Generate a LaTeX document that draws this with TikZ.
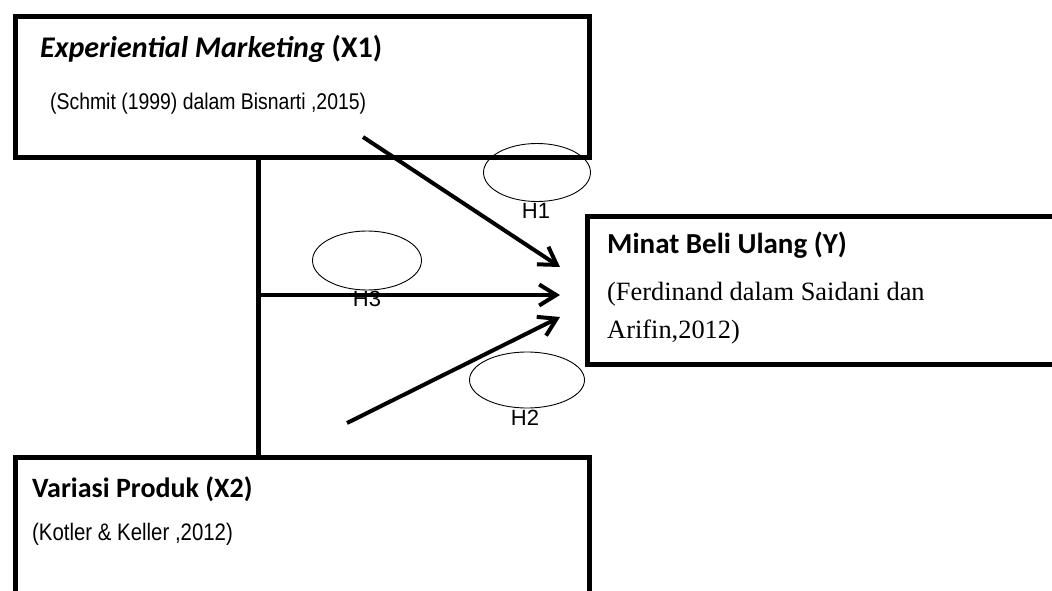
\documentclass[tikz,border=0pt]{standalone}
\usepackage{fontspec}
\setmainfont{Liberation Serif}
\newfontfamily\calfont{Carlito}
\newfontfamily\arialfont{Liberation Sans}
\usetikzlibrary{arrows.meta,shapes.geometric}

% sans citations are set slightly tall and narrow
\newcommand{\tallsans}[1]{\scalebox{1}[1.17]{#1}}

\tikzset{
  varbox/.style={draw, line width=5pt, rectangle, anchor=north west, inner sep=0pt},
  spine/.style={line width=5pt},
  hyparrow/.style={line width=4pt, -{Straight Barb[length=17pt, width=21pt]}},
  hypoval/.style={draw, ellipse, line width=0.9pt, inner sep=0pt},
  title/.style={anchor=base west, inner sep=0pt, font=\calfont\bfseries\fontsize{#1}{32}\selectfont},
  title/.default=29,
  citesans/.style={anchor=base west, inner sep=0pt, font=\arialfont\fontsize{#1}{23}\selectfont},
  citesans/.default=19.6,
  citeserif/.style={anchor=base west, inner sep=0pt, font=\fontsize{26.4}{30}\selectfont},
  hlabel/.style={anchor=base, inner sep=0pt, font=\arialfont\fontsize{22}{26}\selectfont},
}

\begin{document}
\begin{tikzpicture}[x=1pt, y=-1pt]
\useasboundingbox (0,0) rectangle (1052,591);
\clip (0,0) rectangle (1052,591);

% variable boxes
\node[varbox, minimum width=574pt, minimum height=140.5pt] (X1) at (13,14.5) {};
\node[varbox, minimum width=574pt, minimum height=200pt] (X2) at (13,455) {};
\node[varbox, minimum width=520pt, minimum height=148pt] (Y) at (585,213.5) {};

% box texts
\node[title=30] (x1t) at (40,58) {\itshape Experiential Marketing\upshape{} (X1)};
\node[citesans=19.4] (x1c) at (50,110) {\tallsans{(Schmit (1999) dalam Bisnarti ,2015)}};
\node[title=28] (x2t) at (32,497) {Variasi Produk (X2)};
\node[citesans=20.4] (x2c) at (32,540) {\tallsans{(Kotler \& Keller ,2012)}};
\node[title=29] (yt) at (607,253) {Minat Beli Ulang (Y)};
\node[citeserif] (yc1) at (607,300) {(Ferdinand dalam Saidani dan};
\node[citeserif] (yc2) at (607,338) {Arifin,2012)};

% hypothesis ovals and labels
\node[hypoval, minimum width=107pt, minimum height=58pt] (H1e) at (537,172.5) {};
\node[hypoval, minimum width=109pt, minimum height=59pt] (H3e) at (367,260.5) {};
\node[hypoval, minimum width=115pt, minimum height=56pt] (H2e) at (527,380) {};
\node[hlabel] (H1) at (536,218) {H1};
\node[hlabel] (H3) at (367,306) {H3};
\node[hlabel] (H2) at (525,425) {H2};

% connector spine between X1 and X2
\coordinate (sTop) at (258,155);
\coordinate (sBot) at (258,455);
\coordinate (sMid) at (258,295);
\draw[spine] (sTop) -- (sBot);

% hypothesis arrows towards Y
\coordinate (a1s) at (363,137);
\coordinate (a1e) at (560,267);
\coordinate (a3e) at (560,295);
\coordinate (a2s) at (347,423);
\coordinate (a2e) at (560,317);
\draw[hyparrow] (a1s) -- (a1e);
\draw[hyparrow] (sMid) -- (a3e);
\draw[hyparrow] (a2s) -- (a2e);
\end{tikzpicture}
\end{document}
